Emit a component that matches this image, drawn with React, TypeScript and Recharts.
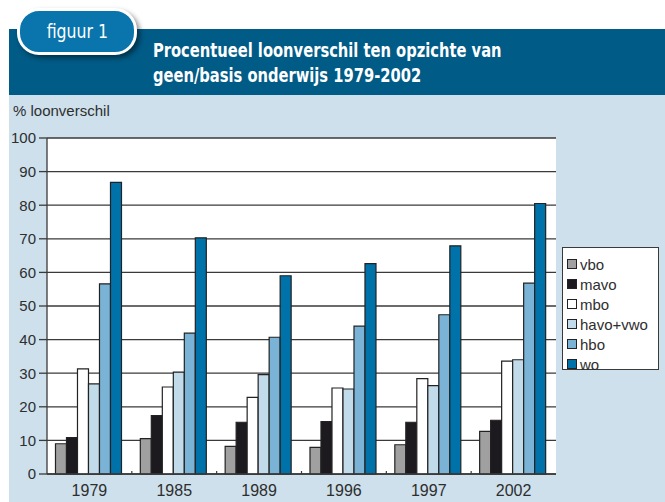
import { Bar, BarChart, CartesianGrid, XAxis, YAxis } from "recharts";

const years = ["1979", "1985", "1989", "1996", "1997", "2002"];
const vbo = [9.0, 10.5, 8.2, 7.9, 8.7, 12.7];
const mavo = [10.8, 17.4, 15.4, 15.6, 15.4, 16.0];
const mbo = [31.3, 25.9, 22.8, 25.6, 28.4, 33.6];
const havoVwo = [26.8, 30.3, 29.6, 25.3, 26.3, 34.0];
const hbo = [56.6, 41.9, 40.7, 44.0, 47.4, 56.8];
const wo = [86.8, 70.3, 59.0, 62.6, 67.9, 80.5];
const yTicks = [0, 10, 20, 30, 40, 50, 60, 70, 80, 90, 100];

const series = [
  { key: "vbo", label: "vbo", color: "#a0a0a0" },
  { key: "mavo", label: "mavo", color: "#1c1a1f" },
  { key: "mbo", label: "mbo", color: "#ffffff" },
  { key: "havoVwo", label: "havo+vwo", color: "#c2dbea" },
  { key: "hbo", label: "hbo", color: "#7ab3d5" },
  { key: "wo", label: "wo", color: "#0072aa" },
];

const data = years.map((year, i) => ({
  year,
  vbo: vbo[i],
  mavo: mavo[i],
  mbo: mbo[i],
  havoVwo: havoVwo[i],
  hbo: hbo[i],
  wo: wo[i],
}));

const FONT = '"Liberation Sans", Arial, sans-serif';
const NARROW = '"DejaVu Sans Condensed", "DejaVu Sans", sans-serif';
const INK = "#2e2e2e";
const LINE = "#3a3a3a";

const PLOT_LEFT = 47;
const PLOT_RIGHT = 556;
const HALF_BAND = (PLOT_RIGHT - PLOT_LEFT) / years.length / 2;

function YearTick({ x, y, payload, index }: any) {
  const base = y - 11;
  return (
    <g>
      <text
        x={x}
        y={y}
        dy="0.71em"
        textAnchor="middle"
        fill={INK}
        fontSize={16}
        fontFamily={FONT}
      >
        {payload.value}
      </text>
      {index < years.length - 1 && (
        <line
          x1={x + HALF_BAND}
          x2={x + HALF_BAND}
          y1={base}
          y2={base - 3}
          stroke={LINE}
          strokeWidth={1.2}
        />
      )}
    </g>
  );
}

export default function App() {
  return (
    <div
      style={{
        position: "absolute",
        left: 0,
        top: 0,
        width: 665,
        height: 502,
        background: "#fff",
        overflow: "hidden",
      }}
    >
      <div
        style={{
          position: "absolute",
          left: 9,
          top: 29,
          width: 656,
          height: 66,
          background: "#005b86",
        }}
      />
      <div
        style={{
          position: "absolute",
          left: 9,
          top: 95,
          width: 656,
          height: 407,
          background: "#cde0ec",
        }}
      />
      <div
        style={{
          position: "absolute",
          left: 17,
          top: 8,
          width: 114,
          height: 41,
          border: "3px solid #fff",
          borderRadius: 22,
          background: "#0a75ad",
          boxShadow: "3px 3px 5px rgba(0,0,0,0.45)",
          color: "#fff",
          fontFamily: NARROW,
          fontSize: 19,
          lineHeight: "41px",
          textAlign: "center",
        }}
      >
        <span style={{ display: "inline-block", transform: "scaleX(0.92)" }}>
          figuur 1
        </span>
      </div>
      <div
        style={{
          position: "absolute",
          left: 153,
          top: 38,
          color: "#fff",
          fontFamily: NARROW,
          fontWeight: "bold",
          fontSize: 19,
          lineHeight: "25px",
          whiteSpace: "nowrap",
          transform: "scaleX(0.86)",
          transformOrigin: "left top",
        }}
      >
        Procentueel loonverschil ten opzichte van
        <br />
        geen/basis onderwijs 1979-2002
      </div>
      <div
        style={{
          position: "absolute",
          left: 13,
          top: 103,
          color: INK,
          fontFamily: FONT,
          fontSize: 15,
          lineHeight: "15px",
        }}
      >
        % loonverschil
      </div>

      <div style={{ position: "absolute", left: 0, top: 0 }}>
        <BarChart
          width={665}
          height={502}
          data={data}
          margin={{ top: 138, right: 109, left: 7, bottom: 0 }}
          barCategoryGap="10%"
          barGap={0}
        >
          <CartesianGrid
            vertical={false}
            fill="#ffffff"
            fillOpacity={1}
            stroke={LINE}
            strokeWidth={1.3}
          />
          <XAxis
            dataKey="year"
            height={28}
            axisLine={{ stroke: LINE, strokeWidth: 1.3 }}
            tickLine={false}
            tickSize={8}
            tickMargin={3}
            interval={0}
            tick={<YearTick />}
          />
          <YAxis
            width={40}
            domain={[0, 100]}
            ticks={yTicks}
            interval={0}
            axisLine={{ stroke: LINE, strokeWidth: 1.3 }}
            tickLine={{ stroke: LINE, strokeWidth: 1.3 }}
            tickSize={8}
            tickMargin={3}
            tick={{ fill: INK, fontSize: 15, fontFamily: FONT }}
          />
          <YAxis
            yAxisId="right"
            orientation="right"
            width={0}
            domain={[0, 100]}
            tick={false}
            tickLine={false}
            axisLine={{ stroke: LINE, strokeWidth: 1.3 }}
          />
          {series.map((s) => (
            <Bar
              key={s.key}
              dataKey={s.key}
              name={s.label}
              fill={s.color}
              stroke="#222"
              strokeWidth={1.2}
              isAnimationActive={false}
            />
          ))}
        </BarChart>
      </div>

      <div
        style={{
          position: "absolute",
          left: 562,
          top: 247,
          width: 97,
          height: 123,
          background: "#fff",
          border: `1px solid ${LINE}`,
          boxSizing: "border-box",
          paddingTop: 6,
        }}
      >
        {series.map((s) => (
          <div
            key={s.key}
            style={{
              display: "flex",
              alignItems: "center",
              height: 20,
              paddingLeft: 4,
              fontFamily: FONT,
              fontSize: 15,
              color: INK,
            }}
          >
            <span
              style={{
                display: "inline-block",
                width: 10,
                height: 10,
                marginRight: 3,
                background: s.color,
                border: "1px solid #222",
                boxSizing: "border-box",
              }}
            />
            {s.label}
          </div>
        ))}
      </div>
    </div>
  );
}
